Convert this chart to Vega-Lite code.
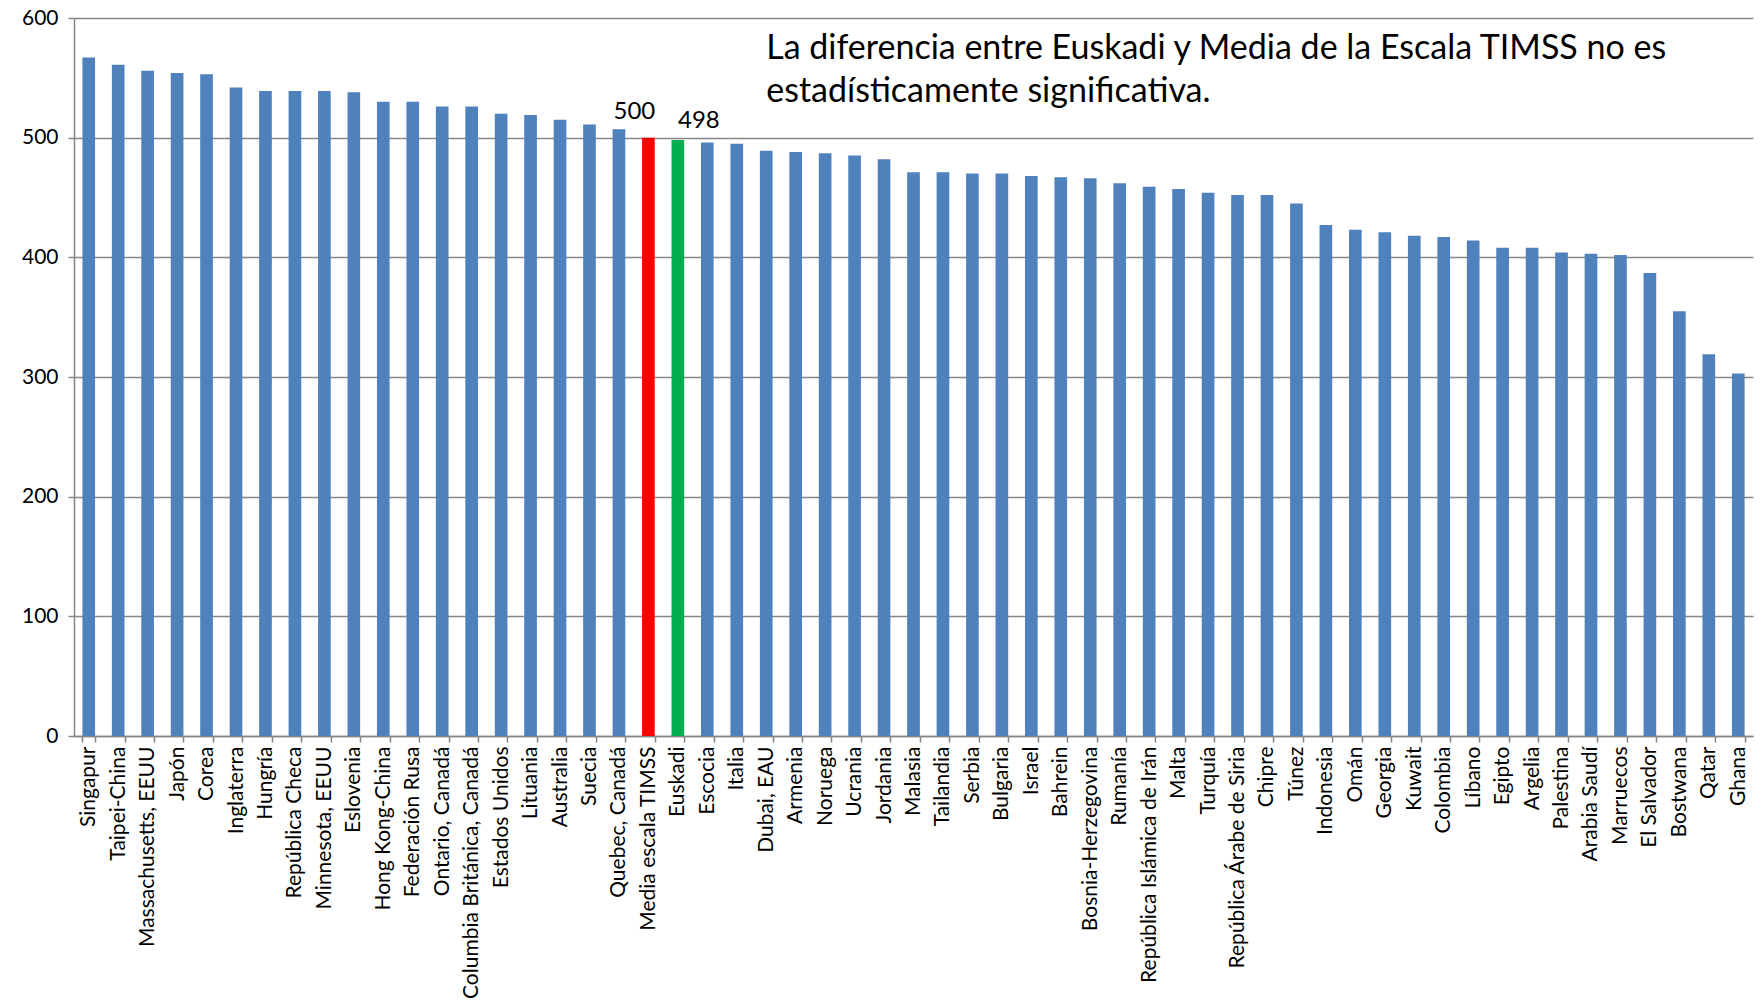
{
  "$schema": "https://vega.github.io/schema/vega-lite/v6.json",
  "width": 1679,
  "height": 718,
  "autosize": {"type": "none"},
  "padding": {"left": 74, "top": 18, "right": 9, "bottom": 265},
  "background": "white",
  "config": {"view": {"stroke": null}, "font": "Lato"},
  "datasets": {
    "puntuaciones": [
      {"pais": "Singapur", "valor": 567, "tipo": "pais"},
      {"pais": "Taipei-China", "valor": 561, "tipo": "pais"},
      {"pais": "Massachusetts, EEUU", "valor": 556, "tipo": "pais"},
      {"pais": "Japón", "valor": 554, "tipo": "pais"},
      {"pais": "Corea", "valor": 553, "tipo": "pais"},
      {"pais": "Inglaterra", "valor": 542, "tipo": "pais"},
      {"pais": "Hungría", "valor": 539, "tipo": "pais"},
      {"pais": "República Checa", "valor": 539, "tipo": "pais"},
      {"pais": "Minnesota, EEUU", "valor": 539, "tipo": "pais"},
      {"pais": "Eslovenia", "valor": 538, "tipo": "pais"},
      {"pais": "Hong Kong-China", "valor": 530, "tipo": "pais"},
      {"pais": "Federación Rusa", "valor": 530, "tipo": "pais"},
      {"pais": "Ontario, Canadá", "valor": 526, "tipo": "pais"},
      {"pais": "Columbia Británica, Canadá", "valor": 526, "tipo": "pais"},
      {"pais": "Estados Unidos", "valor": 520, "tipo": "pais"},
      {"pais": "Lituania", "valor": 519, "tipo": "pais"},
      {"pais": "Australia", "valor": 515, "tipo": "pais"},
      {"pais": "Suecia", "valor": 511, "tipo": "pais"},
      {"pais": "Quebec, Canadá", "valor": 507, "tipo": "pais"},
      {"pais": "Media escala TIMSS", "valor": 500, "tipo": "media"},
      {"pais": "Euskadi", "valor": 498, "tipo": "euskadi"},
      {"pais": "Escocia", "valor": 496, "tipo": "pais"},
      {"pais": "Italia", "valor": 495, "tipo": "pais"},
      {"pais": "Dubai, EAU", "valor": 489, "tipo": "pais"},
      {"pais": "Armenia", "valor": 488, "tipo": "pais"},
      {"pais": "Noruega", "valor": 487, "tipo": "pais"},
      {"pais": "Ucrania", "valor": 485, "tipo": "pais"},
      {"pais": "Jordania", "valor": 482, "tipo": "pais"},
      {"pais": "Malasia", "valor": 471, "tipo": "pais"},
      {"pais": "Tailandia", "valor": 471, "tipo": "pais"},
      {"pais": "Serbia", "valor": 470, "tipo": "pais"},
      {"pais": "Bulgaria", "valor": 470, "tipo": "pais"},
      {"pais": "Israel", "valor": 468, "tipo": "pais"},
      {"pais": "Bahrein", "valor": 467, "tipo": "pais"},
      {"pais": "Bosnia-Herzegovina", "valor": 466, "tipo": "pais"},
      {"pais": "Rumanía", "valor": 462, "tipo": "pais"},
      {"pais": "República Islámica de Irán", "valor": 459, "tipo": "pais"},
      {"pais": "Malta", "valor": 457, "tipo": "pais"},
      {"pais": "Turquía", "valor": 454, "tipo": "pais"},
      {"pais": "República Árabe de Siria", "valor": 452, "tipo": "pais"},
      {"pais": "Chipre", "valor": 452, "tipo": "pais"},
      {"pais": "Túnez", "valor": 445, "tipo": "pais"},
      {"pais": "Indonesia", "valor": 427, "tipo": "pais"},
      {"pais": "Omán", "valor": 423, "tipo": "pais"},
      {"pais": "Georgia", "valor": 421, "tipo": "pais"},
      {"pais": "Kuwait", "valor": 418, "tipo": "pais"},
      {"pais": "Colombia", "valor": 417, "tipo": "pais"},
      {"pais": "Líbano", "valor": 414, "tipo": "pais"},
      {"pais": "Egipto", "valor": 408, "tipo": "pais"},
      {"pais": "Argelia", "valor": 408, "tipo": "pais"},
      {"pais": "Palestina", "valor": 404, "tipo": "pais"},
      {"pais": "Arabia Saudí", "valor": 403, "tipo": "pais"},
      {"pais": "Marruecos", "valor": 402, "tipo": "pais"},
      {"pais": "El Salvador", "valor": 387, "tipo": "pais"},
      {"pais": "Bostwana", "valor": 355, "tipo": "pais"},
      {"pais": "Qatar", "valor": 319, "tipo": "pais"},
      {"pais": "Ghana", "valor": 303, "tipo": "pais"}
    ],
    "nota": [
      {"linea": 1, "texto": "La diferencia entre Euskadi y Media de la Escala TIMSS no es"},
      {"linea": 2, "texto": "estadísticamente significativa."}
    ]
  },
  "layer": [
    {
      "data": {"name": "puntuaciones"},
      "mark": {"type": "bar"},
      "encoding": {
        "x": {
          "field": "pais", "type": "nominal", "sort": null,
          "scale": {"paddingInner": 0.57, "paddingOuter": 0.285},
          "axis": {
            "title": null, "labelAngle": -90, "labelAlign": "right", "labelBaseline": "middle",
            "labelFont": "Lato", "labelFontSize": 21, "labelColor": "#000000", "labelPadding": 4,
            "domainColor": "#868686", "domainWidth": 1.5, "tickColor": "#868686", "tickWidth": 1.5,
            "tickSize": 6, "tickBand": "extent", "labelLimit": 400
          }
        },
        "y": {
          "field": "valor", "type": "quantitative",
          "scale": {"domain": [0, 600], "nice": false},
          "axis": {
            "title": null, "values": [0, 100, 200, 300, 400, 500, 600],
            "labelFont": "Lato", "labelFontSize": 21, "labelColor": "#000000", "labelPadding": 10,
            "domainColor": "#868686", "domainWidth": 1.5, "tickColor": "#868686", "tickWidth": 1.5,
            "tickSize": 6, "gridColor": "#868686", "gridWidth": 1.5
          }
        },
        "color": {
          "field": "tipo", "type": "nominal", "legend": null,
          "scale": {"domain": ["pais", "media", "euskadi"], "range": ["#4F81BD", "#FF0000", "#00B050"]}
        }
      }
    },
    {
      "data": {"name": "puntuaciones"},
      "transform": [{"filter": "datum.tipo === 'media'"}],
      "mark": {"type": "text", "fontSize": 24, "font": "Lato", "color": "#000000", "baseline": "alphabetic", "dy": -19, "dx": -14},
      "encoding": {
        "x": {"field": "pais", "type": "nominal", "sort": null},
        "y": {"field": "valor", "type": "quantitative"},
        "text": {"field": "valor", "type": "quantitative"}
      }
    },
    {
      "data": {"name": "puntuaciones"},
      "transform": [{"filter": "datum.tipo === 'euskadi'"}],
      "mark": {"type": "text", "fontSize": 24, "font": "Lato", "color": "#000000", "baseline": "alphabetic", "dy": -12, "dx": 21},
      "encoding": {
        "x": {"field": "pais", "type": "nominal", "sort": null},
        "y": {"field": "valor", "type": "quantitative"},
        "text": {"field": "valor", "type": "quantitative"}
      }
    },
    {
      "data": {"name": "nota"},
      "transform": [{"filter": "datum.linea === 1"}],
      "mark": {"type": "text", "fontSize": 34, "font": "Lato", "color": "#000000", "align": "left", "baseline": "alphabetic"},
      "encoding": {
        "x": {"datum": "Dubai, EAU"},
        "y": {"datum": 566},
        "text": {"field": "texto", "type": "nominal"}
      }
    },
    {
      "data": {"name": "nota"},
      "transform": [{"filter": "datum.linea === 2"}],
      "mark": {"type": "text", "fontSize": 34, "font": "Lato", "color": "#000000", "align": "left", "baseline": "alphabetic"},
      "encoding": {
        "x": {"datum": "Dubai, EAU"},
        "y": {"datum": 530},
        "text": {"field": "texto", "type": "nominal"}
      }
    }
  ]
}
